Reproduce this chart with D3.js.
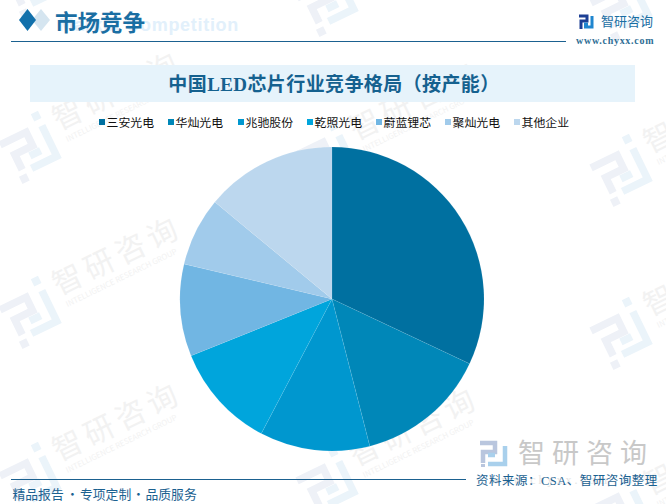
<!DOCTYPE html>
<html><head><meta charset="utf-8">
<script src="https://cdn.jsdelivr.net/npm/d3@7"></script>
<style>html,body{margin:0;padding:0;background:#fff}svg{display:block}</style>
</head><body><svg id="c" width="666" height="504"></svg>
<script>
const categories=["三安光电","华灿光电","兆驰股份","乾照光电","蔚蓝锂芯","聚灿光电","其他企业"];
const shares=[32,14,11.7,11.2,9.8,7.3,14];
const colors=["#0070a0","#0087b8","#0097cf","#00a5dc","#71b6e3","#a1cbeb","#bcd7ee"];
const legendX=[99,168,238,307,376,445,514];
const wmAnchors=[[30,-18,0],[30,147,1],[30,312,1],[30,478,1],[327,0,0],[327,157,1],[327,320,1],[327,483,1],[621,5,0],[621,170,1],[621,333,1],[621,512,1]];
const footerParts=[["精品报告",12.5],["·",66],["专项定制",80],["·",132],["品质服务",145.5]];

const sans="'Noto Sans CJK SC','Noto Sans',sans-serif";
const serif="'Liberation Serif','Noto Sans CJK SC',serif";
const svg=d3.select("#c");
svg.append("rect").attr("width",666).attr("height",504).attr("fill","#fff");

// watermark
function mark(g,withText){
  const a="#eef1f7",b="#ebf4fa";
  g.append("path").attr("fill","none").attr("stroke",a).attr("stroke-width",7.5)
    .attr("d","M-26,-15H3V0H-17V17");
  g.append("rect").attr("x",-23).attr("y",22).attr("width",8).attr("height",8).attr("fill",a);
  g.append("path").attr("fill","none").attr("stroke",b).attr("stroke-width",7.5)
    .attr("d","M-4,8H8M20,-14V20H-8");
  g.append("rect").attr("x",15).attr("y",-29).attr("width",8).attr("height",8).attr("fill",b);
  if(!withText) return;
  g.append("text").attr("x",33).attr("y",-2).attr("font-family",sans).attr("font-size",30)
    .attr("letter-spacing",5).attr("fill","#f2f2f2").text("智研咨询");
  g.append("text").attr("x",36).attr("y",12).attr("font-family",sans).attr("font-size",7.8)
    .attr("fill","#f2f2f2").text("INTELLIGENCE RESEARCH GROUP");
}
wmAnchors.forEach(([x,y,t])=>mark(svg.append("g").attr("transform",`translate(${x},${y}) rotate(-26)`),t));

// header
svg.append("path").attr("fill","#d5e5f0").attr("d","M32,20L41,9L50,20L41,31Z");
svg.append("path").attr("fill","#1270ab").attr("d","M19,20L27.5,9L36,20L27.5,31Z");
svg.append("text").attr("x",239).attr("y",31).attr("text-anchor","end").attr("font-family","'Liberation Sans',sans-serif").attr("font-weight",700)
  .attr("font-size",18).attr("letter-spacing",.7).attr("fill","#e2f0fb").text("Market Competition");
svg.append("text").attr("x",55).attr("y",31).attr("font-family",sans).attr("font-weight",700)
  .attr("font-size",22.5).attr("fill","#1a6ea3").text("市场竞争");
svg.append("line").attr("x1",11).attr("x2",566).attr("y1",41.5).attr("y2",41.5).attr("stroke","#1b6190").attr("stroke-width",1);

// top logo
const lg=svg.append("g").attr("transform","translate(579,14)");
lg.append("path").attr("fill","none").attr("stroke","#1c3f94").attr("stroke-width",3)
  .attr("d","M0,2H8V7H2V15");
lg.append("path").attr("fill","none").attr("stroke","#1f86cf").attr("stroke-width",3)
  .attr("d","M5,10H9M13,2V13H5");
svg.append("text").attr("x",601).attr("y",26).attr("font-family",sans).attr("font-size",13)
  .attr("fill","#1a6ea3").text("智研咨询");
svg.append("text").attr("x",576).attr("y",44).attr("font-family",serif).attr("font-size",10)
  .attr("font-weight",700).attr("letter-spacing",.72).attr("fill","#2f6e95").text("www.chyxx.com");

// title
svg.append("rect").attr("x",30).attr("y",65).attr("width",605).attr("height",37).attr("fill","#e6f3fb");
svg.append("text").attr("x",334).attr("y",91).attr("text-anchor","middle").attr("font-family",serif)
  .attr("font-weight",700).attr("font-size",19).attr("letter-spacing",.4).attr("fill","#15618f")
  .text("中国LED芯片行业竞争格局（按产能）");

// legend
const leg=svg.append("g").selectAll("g").data(categories).join("g")
  .attr("transform",(d,i)=>`translate(${legendX[i]},122)`);
leg.append("rect").attr("y",-3).attr("width",6).attr("height",6).attr("fill",(d,i)=>colors[i]);
leg.append("text").attr("x",7.5).attr("y",5).attr("font-family",sans).attr("font-size",11.9).attr("fill","#111").text(d=>d);

// pie
const pie=d3.pie().sort(null).value(d=>d)(shares);
const arc=d3.arc().innerRadius(0).outerRadius(152);
svg.append("g").attr("transform","translate(332,299)").selectAll("path").data(pie).join("path")
  .attr("d",arc).attr("fill",(d,i)=>colors[i]).attr("stroke","#fff").attr("stroke-opacity",.12).attr("stroke-width",.6);

// footer
svg.append("line").attr("x1",11).attr("x2",466).attr("y1",479.5).attr("y2",479.5).attr("stroke","#1b6190").attr("stroke-width",1);
svg.append("text").attr("y",499).attr("font-family",sans).attr("font-size",12.8)
  .attr("fill","#1b6190").selectAll("tspan").data(footerParts).join("tspan")
  .attr("x",d=>d[1]).text(d=>d[0]);

// source logo
const sg=svg.append("g").attr("transform","translate(480,440)");
sg.append("path").attr("fill","none").attr("stroke","#b9c6de").attr("stroke-width",4.5)
  .attr("d","M0,3H15V12H3V23");
sg.append("rect").attr("x",1).attr("y",24).attr("width",4).attr("height",3).attr("fill","#b9c6de");
sg.append("path").attr("fill","none").attr("stroke","#a9d0ec").attr("stroke-width",4.5)
  .attr("d","M8,15H15M25,6V24H8");
svg.append("text").attr("x",518).attr("y",463).attr("font-family",sans).attr("font-size",27)
  .attr("letter-spacing",7).attr("fill","#c8c8c8").text("智研咨询");
svg.append("text").attr("x",490).attr("y",484).attr("font-family",serif).attr("font-size",12)
  .attr("letter-spacing",3).attr("fill","#e4e4e4").text("www.chyxx.com");
svg.append("text").attr("x",476).attr("y",485).attr("font-family",serif).attr("font-size",12.5)
  .attr("letter-spacing",.5).attr("fill","#1b6190").text("资料来源：CSA、智研咨询整理");
</script></body></html>
